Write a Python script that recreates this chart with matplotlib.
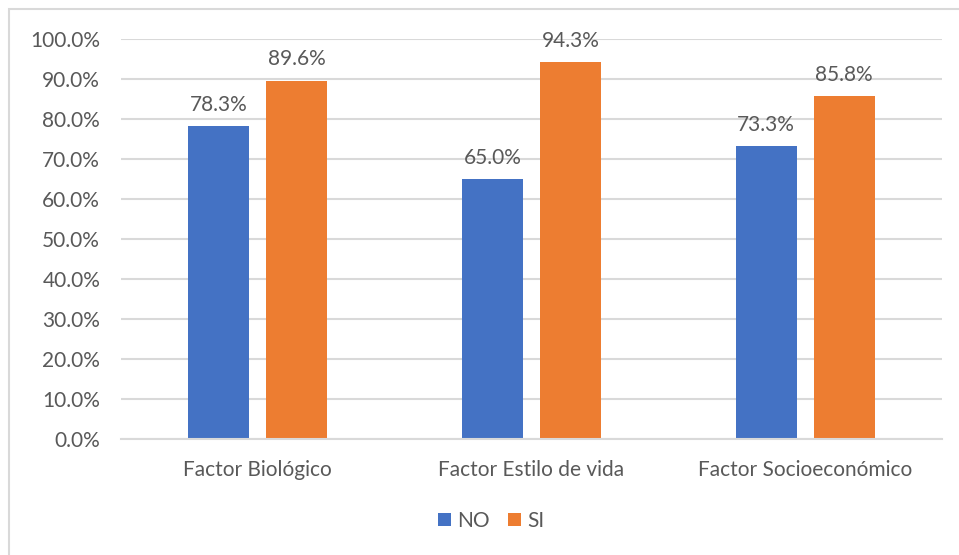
import numpy as np
import matplotlib
matplotlib.use("Agg")
import matplotlib.pyplot as plt
from matplotlib.patches import Rectangle

plt.rcParams["font.family"] = ["Lato", "DejaVu Sans"]

categories = ["Factor Biológico", "Factor Estilo de vida", "Factor Socioeconómico"]
no_values = [78.3, 65.0, 73.3]
si_values = [89.6, 94.3, 85.8]
y_ticks = [0, 10, 20, 30, 40, 50, 60, 70, 80, 90, 100]

text_colour = "#595959"
grid_colour = "#d9d9d9"
blue = "#4472c4"
orange = "#ed7d31"
fs = 15

fig = plt.figure(figsize=(9.59, 5.55), dpi=100)
ax = fig.add_axes([121 / 959, 1 - 439 / 555, (942 - 121) / 959, 400 / 555])

# outer chart border (cut by the right and bottom edges)
fig.patches.append(Rectangle((9 / 959, -0.05), 1.1, 1 - 9 / 555 + 0.05,
                             transform=fig.transFigure, fill=False,
                             edgecolor=grid_colour, linewidth=1.5))

x = np.arange(len(categories))
width = 0.223
offset = 0.142
b1 = ax.bar(x - offset, no_values, width, color=blue, label="NO", zorder=3)
b2 = ax.bar(x + offset, si_values, width, color=orange, label="SI", zorder=3)

for bars, vals in ((b1, no_values), (b2, si_values)):
    for bar, v in zip(bars, vals):
        ax.text(bar.get_x() + bar.get_width() / 2, v + 2.8, "%.1f%%" % v,
                ha="center", va="bottom", fontsize=fs, color=text_colour)

ax.set_xlim(-0.5, 2.5)
ax.set_ylim(0, 100)
ax.set_yticks(y_ticks)
ax.set_yticklabels(["%.1f%%" % t for t in y_ticks])
ax.set_xticks(x)
ax.set_xticklabels(categories)
ax.tick_params(axis="both", length=0, labelsize=fs, labelcolor=text_colour)
ax.tick_params(axis="x", pad=15)
ax.tick_params(axis="y", pad=15)
ax.yaxis.grid(True, color=grid_colour, linewidth=1.5, zorder=0)
for side in ["top", "right", "left"]:
    ax.spines[side].set_visible(False)
ax.spines["bottom"].set_color(grid_colour)
ax.spines["bottom"].set_linewidth(1.5)
ax.spines["bottom"].set_zorder(4)

fig.legend(loc="center", bbox_to_anchor=(491 / 959, 1 - 521 / 555), ncol=2,
           frameon=False, fontsize=fs, handlelength=0.6, handleheight=0.6,
           handletextpad=0.3, columnspacing=0.9, labelcolor=text_colour)

plt.savefig("out.png", dpi=100)
